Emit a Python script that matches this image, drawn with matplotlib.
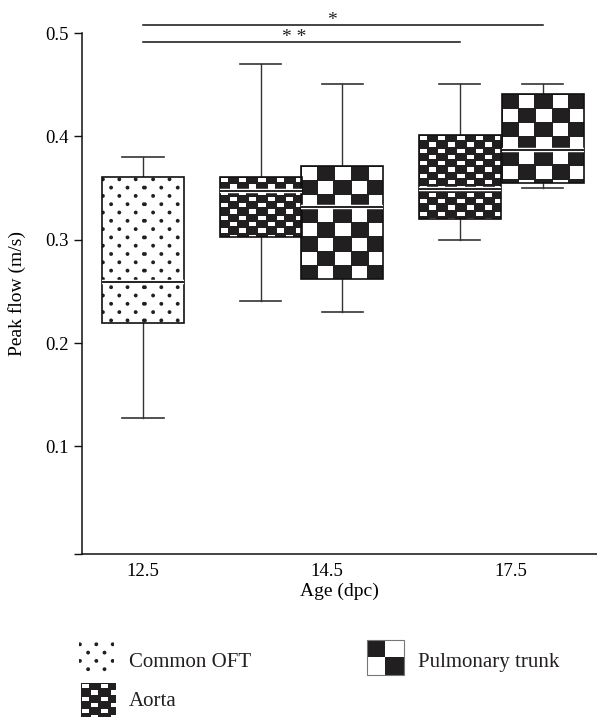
import numpy as np
import matplotlib.pyplot as plt
from matplotlib import patheffects as pe

plt.rcParams['font.family'] = ['Liberation Serif', 'DejaVu Serif']
plt.rcParams['text.color'] = '#231f20'

ages = ['12.5', '14.5', '17.5']

# box summaries: low whisker, q1, median, q3, high whisker
oft_low = [0.128]
oft_q1 = [0.219]
oft_med = [0.259]
oft_q3 = [0.361]
oft_high = [0.380]

aorta_low = [0.241, 0.300]
aorta_q1 = [0.303, 0.320]
aorta_med = [0.347, 0.349]
aorta_q3 = [0.361, 0.401]
aorta_high = [0.470, 0.451]

pt_low = [0.230, 0.350]
pt_q1 = [0.262, 0.355]
pt_med = [0.332, 0.387]
pt_q3 = [0.371, 0.441]
pt_high = [0.451, 0.451]

sig_marks = ['**', '*']

# layout (x in units of the age ticks)
oft_pos = [0.0]
aorta_pos = [0.641, 1.722]
pt_pos = [1.082, 2.173]
box_w = 0.446
pt_phase = [0, 1]

INK = np.array([0x23, 0x1f, 0x20]) / 255.0


def pattern_rgb(kind, w, h, phase=0):
    U, V = np.meshgrid(np.arange(w) + 0.5, np.arange(h) + 0.5)
    if kind == 'dots':
        px, py = 16.4, 16.6
        d = np.full(U.shape, np.inf)
        for ox, oy in [(0.9, 3.3), (0.9 + px / 2, 3.3 + py / 2)]:
            du = (U - ox + px / 2) % px - px / 2
            dv = (V - oy + py / 2) % py - py / 2
            d = np.minimum(d, np.hypot(du, dv))
        ink = np.clip(2.4 - d, 0, 1)
    else:
        if kind == 'small':
            cw, ch, ix, iy = 9.2, 6.3, 1.1, 1.0
        elif kind == 'big':
            cw, ch, ix, iy = 16.5, 14.2, 0.6, 0.6
        else:  # legend swatch for the pulmonary trunk
            cw, ch, ix, iy = w / 2, h / 2, 0.0, 0.0
        ci = np.floor(U / cw)
        ri = np.floor(V / ch)
        lu = U - ci * cw
        lv = V - ri * ch
        white = ((((ci + ri) % 2) == phase) & (lu >= ix) & (lu <= cw - ix)
                 & (lv >= iy) & (lv <= ch - iy))
        ink = 1.0 - white
    return 1.0 - ink[..., None] * (1.0 - INK)


fig = plt.figure(figsize=(5.97, 7.18), dpi=100)
ax = fig.add_axes([82 / 597, 164 / 718, 515 / 597, 521 / 718])
xlim = (-0.3315, 2.4674)
ylim = (-0.004, 0.5)
ax.set_xlim(*xlim)
ax.set_ylim(*ylim)

series = [
    ('dots', oft_pos, oft_low, oft_q1, oft_med, oft_q3, oft_high, [0]),
    ('small', aorta_pos, aorta_low, aorta_q1, aorta_med, aorta_q3, aorta_high, [0, 0]),
    ('big', pt_pos, pt_low, pt_q1, pt_med, pt_q3, pt_high, pt_phase),
]

for kind, pos, lo, q1, med, q3, hi, phases in series:
    stats = [dict(whislo=a, q1=b, med=c, q3=d, whishi=e, fliers=[])
             for a, b, c, d, e in zip(lo, q1, med, q3, hi)]
    res = ax.bxp(stats, positions=pos, widths=box_w, patch_artist=True,
                 showfliers=False, manage_ticks=False,
                 boxprops=dict(facecolor='none', edgecolor='#111111', linewidth=1.2),
                 whiskerprops=dict(color='#333333', linewidth=1.0),
                 capprops=dict(color='#333333', linewidth=1.2),
                 medianprops=dict(color='#111111', linewidth=1.3,
                                  path_effects=[pe.Stroke(linewidth=3.2, foreground='white'),
                                                pe.Normal()]))
    for box in res['boxes']:
        box.set_zorder(3)
    for m in res['medians']:
        m.set_zorder(4)
    for p, b, d, box, ph in zip(pos, q1, q3, res['boxes'], phases):
        x0, x1 = p - box_w / 2, p + box_w / 2
        (dx0, dy0), (dx1, dy1) = ax.transData.transform([(x0, b), (x1, d)])
        img = pattern_rgb(kind, int(round(dx1 - dx0)), int(round(dy1 - dy0)), ph)
        im = ax.imshow(img, extent=(x0, x1, b, d), origin='upper', aspect='auto',
                       interpolation='nearest', zorder=2.5)
        im.set_clip_path(box)

ax.set_xlim(*xlim)
ax.set_ylim(*ylim)

# significance bars
sig_y = [0.4916, 0.5077]
sig_ends = [aorta_pos[1], pt_pos[1]]
sig_text_x = [0.823, 1.027]
sig_text_y = [0.4955, 0.5125]
for mark, yv, xe, tx, ty in zip(sig_marks, sig_y, sig_ends, sig_text_x, sig_text_y):
    ax.plot([oft_pos[0], xe], [yv, yv], color='#111111', lw=1.1, clip_on=False)
    ax.text(tx, ty, ' '.join(mark), ha='center', va='center', fontsize=14, clip_on=False)

for s in ['top', 'right']:
    ax.spines[s].set_visible(False)
for s in ['left', 'bottom']:
    ax.spines[s].set_linewidth(1.1)
    ax.spines[s].set_color('#111111')

ax.set_xticks(range(len(ages)))
ax.set_xticklabels(ages)
ax.set_yticks([-0.004, 0.1, 0.2, 0.3, 0.4, 0.5])
ax.set_yticklabels(['', '0.1', '0.2', '0.3', '0.4', '0.5'])
ax.tick_params(axis='x', length=0, pad=6.5, labelsize=13.5)
ax.tick_params(axis='y', length=6.1, width=1.0, pad=3.6, labelsize=13.5, color='#111111')
ax.set_xlabel('Age (dpc)', fontsize=14, labelpad=2)
ax.set_ylabel('Peak flow (m/s)', fontsize=14)
ax.yaxis.set_label_coords(-0.108, 0.5)

# legend drawn in figure pixel space
lax = fig.add_axes([0, 0, 1, 1])
leg_names = ['Common OFT', 'Aorta', 'Pulmonary trunk']
leg_kinds = ['dots', 'small', 'swatch']
leg_boxes = [(79, 641, 35, 31), (80.5, 682.7, 34.5, 34), (367, 640, 37, 35)]
leg_text = [(129, 667), (129, 706), (417.7, 666.7)]
for name, kind, (bx, by, bw, bh), (tx, ty) in zip(leg_names, leg_kinds, leg_boxes, leg_text):
    img = pattern_rgb(kind, int(round(bw)), int(round(bh)), 1 if kind == 'swatch' else 0)
    lax.imshow(img, extent=(bx, bx + bw, by + bh, by), origin='upper',
               aspect='auto', interpolation='nearest')
    if kind == 'swatch':
        lax.add_patch(plt.Rectangle((bx, by), bw, bh, fill=False, ec='#777777', lw=0.8))
    lax.text(tx, ty, name, ha='left', va='baseline', fontsize=15)
lax.set_xlim(0, 597)
lax.set_ylim(718, 0)
lax.axis('off')

fig.savefig('out.png', dpi=100)
